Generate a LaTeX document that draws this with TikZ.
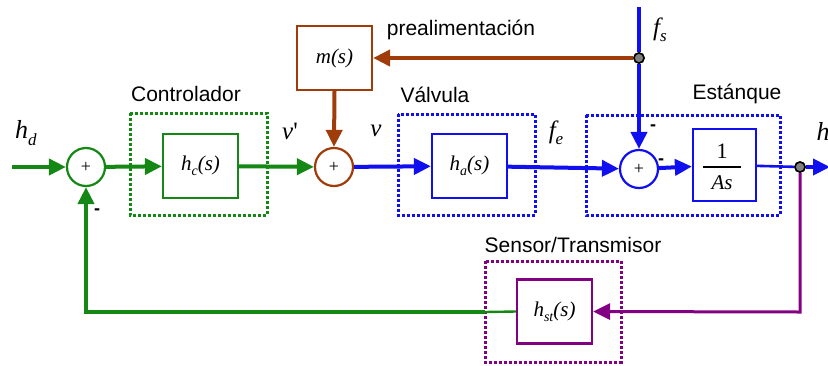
\documentclass[tikz,border=0pt]{standalone}
\usepackage{fontspec}
\setmainfont{Liberation Sans}
\newfontfamily\serfam{Liberation Serif}
\usetikzlibrary{arrows.meta}

\definecolor{cgreen}{RGB}{20,135,20}
\definecolor{cbrown}{RGB}{160,60,10}
\definecolor{cblue}{RGB}{15,15,240}
\definecolor{cpurple}{RGB}{130,0,130}

% italic serif symbol with a lowered subscript: #1 body, #2 subscript, #3 size, #4 subscript size
\newcommand\sigsym[4]{{\serfam\itshape\fontsize{#3}{#3}\selectfont #1\raisebox{-0.25em}{\fontsize{#4}{#4}\selectfont #2}}}
\newcommand\tfun[2]{{\serfam\itshape\fontsize{21}{21}\selectfont #1\raisebox{-0.22em}{\fontsize{14}{14}\selectfont #2}(s)}}

\tikzset{
  sig/.style={line width=4pt},
  arr/.style={sig,-{Triangle[length=17pt,width=16pt]}},
  blk/.style={line width=2.2pt,fill=white,minimum width=75pt,minimum height=64pt,inner sep=0pt},
  sumnode/.style={circle,line width=2.2pt,fill=white,minimum size=38pt,inner sep=0pt,
    font=\serfam\fontsize{18}{18}\selectfont},
  group/.style={line width=3pt,dash pattern=on 3pt off 2pt},
  tag/.style={font=\fontsize{21}{21}\selectfont,inner sep=0pt},
  signlbl/.style={font=\bfseries\fontsize{18}{18}\selectfont,inner sep=0pt},
  dot/.style={draw=black,circle,fill=gray,line width=1.5pt,minimum size=10pt,inner sep=0pt},
}

\begin{document}
\begin{tikzpicture}[x=1pt,y=-1pt]
\useasboundingbox (0,0) rectangle (828,365);
\clip (0,0) rectangle (828,365);

% grouping frames
\draw[group,cgreen]  (130,113) rectangle (267,215);
\draw[group,cblue]   (398,114) rectangle (535,215);
\draw[group,cblue]   (586,115) rectangle (780,215);
\draw[group,cpurple] (485,261) rectangle (621,362);

% group titles
\node[tag] (tctrl) at (186,94) {Controlador};
\node[tag] (tff)   at (461,30) {prealimentación};
\node[tag] (tval)  at (435,95) {Válvula};
\node[tag] (ttank) at (737,94) {Estánque};
\node[tag] (tsens) at (573,245) {Sensor/Transmisor};

% summing junctions
\node[sumnode,draw=cgreen] (s1) at (86,167) {+};
\node[sumnode,draw=cbrown] (s2) at (334,167) {+};
\node[sumnode,draw=cblue]  (s3) at (639,169) {+};

% blocks
\node[blk,draw=cgreen]  (hc)  at (200.5,166) {\tfun{h}{c}};
\node[blk,draw=cbrown]  (m)   at (334.5,58)  {{\serfam\itshape\fontsize{21}{21}\selectfont m(s)}};
\node[blk,draw=cblue]   (ha)  at (469.5,166) {\tfun{h}{a}};
\node[blk,draw=cblue,minimum width=63pt,minimum height=72pt] (tank) at (724.5,165) {};
\node[blk,draw=cpurple] (hst) at (554.5,311.5) {\tfun{h}{st}};

% 1/(As) inside the tank block
\node[inner sep=0pt,font=\serfam\fontsize{22}{22}\selectfont] (num) at (722,151) {1};
\node[inner sep=0pt,font=\serfam\itshape\fontsize{21}{21}\selectfont] (den) at (722,183) {As};
\coordinate (barL) at (703,167);
\coordinate (barR) at (741,167);
\draw[line width=1.8pt] (barL) -- (barR);

% branch points
\node[dot] (jf) at (639,58) {};
\node[dot] (jo) at (800,167) {};

% free ends
\coordinate (cin)  at (12,167);
\coordinate (ftop) at (639,7);
\coordinate (hout) at (830,167);
\coordinate (fbr)  at (800,312);
\coordinate (fbl)  at (86,312);
\coordinate (fbm)  at (485,312);

% green path
\draw[arr,cgreen] (cin) -- (s1);
\draw[arr,cgreen] (s1) -- (hc);
\draw[arr,cgreen] (hc) -- (s2);
\draw[cgreen,line width=2.4pt] (hst.west) -- (fbm);
\draw[arr,cgreen] (fbm) -- (fbl) -- (s1.south);

% brown feed-forward path
\draw[arr,cbrown] (jf) -- (m.east);
\draw[arr,cbrown] (m.south) -- (s2.north);

% blue path
\draw[arr,cblue] (s2) -- (ha);
\draw[arr,cblue] (ha) -- (s3);
\draw[sig,cblue] (ftop) -- (jf);
\draw[arr,cblue] (jf) -- (s3.north);
\draw[arr,cblue] (s3) -- (tank);
\draw[cblue,line width=2.6pt] (tank) -- (jo);
\draw[arr,cblue] (jo) -- (hout);

% purple measurement path
\draw[cpurple,line width=3pt,-{Triangle[length=17pt,width=16pt]}] (jo) -- (fbr) -- (hst.east);

% branch points on top of the lines
\node[dot] at (jf) {};
\node[dot] at (jo) {};

% signal names
\node[inner sep=0pt] (lhd) at (26,133) {\sigsym{h}{d}{26}{17}};
\node[inner sep=0pt] (lvp) at (290,131) {{\serfam\itshape\fontsize{25}{25}\selectfont v\upshape'}};
\node[inner sep=0pt] (lv)  at (376,131) {{\serfam\itshape\fontsize{25}{25}\selectfont v}};
\node[inner sep=0pt] (lfe) at (556,133) {\sigsym{f}{e}{25}{17}};
\node[inner sep=0pt] (lfs) at (660,30)  {\sigsym{f}{s}{25}{17}};
\node[inner sep=0pt] (lh)  at (823,131) {{\serfam\itshape\fontsize{26}{26}\selectfont h}};

% signs
\node[signlbl] (m1) at (97,212) {-};
\node[signlbl] (m2) at (653,128) {-};
\node[signlbl] (m3) at (661,162) {-};
\end{tikzpicture}
\end{document}
